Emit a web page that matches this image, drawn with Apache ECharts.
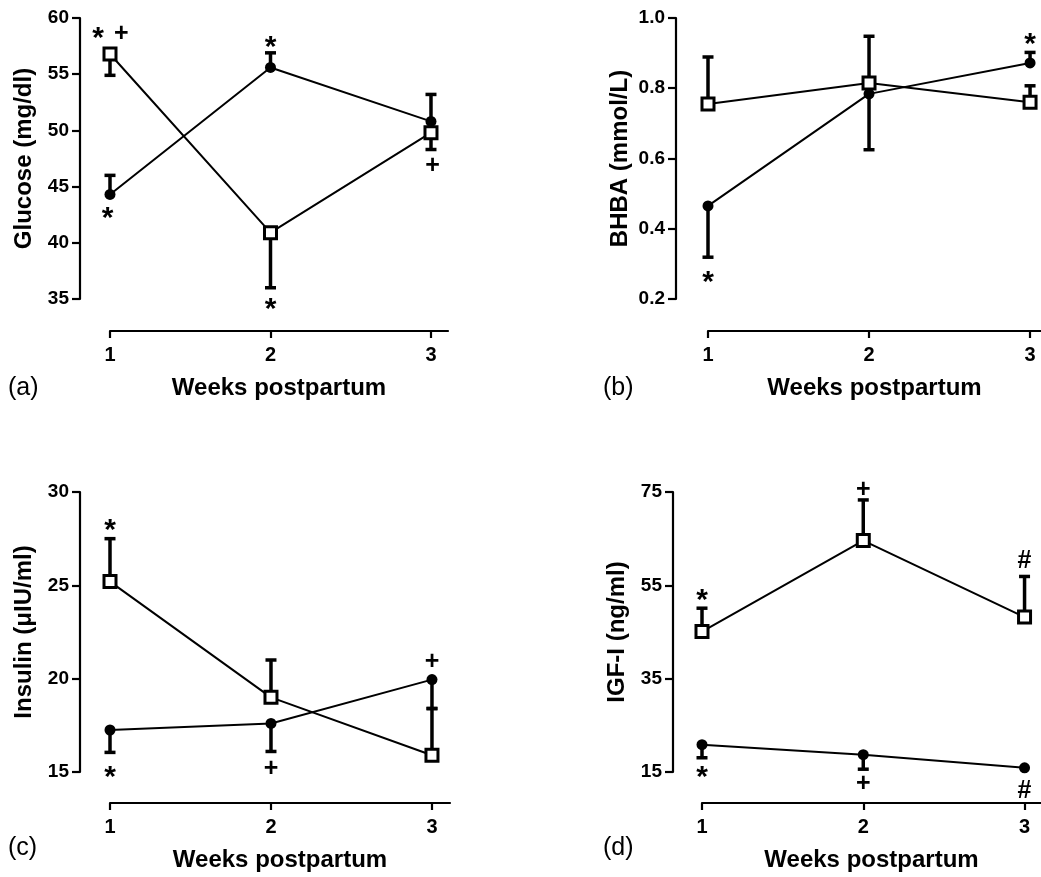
<!DOCTYPE html>
<html><head><meta charset="utf-8">
<script src="https://cdn.jsdelivr.net/npm/echarts@6/dist/echarts.min.js"></script>
<style>html,body{margin:0;padding:0;background:#fff}#c{width:1041px;height:877px}</style>
</head><body><div id="c"></div>
<script>
// ---------- DATA ----------
const weeks = [1, 2, 3];
const xTickValues = [1, 2, 3];

// (a) Glucose (mg/dl)
const glucoseCircle = [44.3, 55.6, 50.8];
const glucoseCircleErr = [1.7, 1.3, 2.4];
const glucoseSquare = [56.8, 40.9, 49.8];
const glucoseSquareErr = [-1.9, -4.9, -1.5];
const glucoseYTicks = [35, 40, 45, 50, 55, 60];
const glucoseMarks = [[0.925, 58.67, '*'], [1.07, 58.6, '+'], [0.985, 42.7, '*'], [2, 57.9, '*'], [2, 34.6, '*'], [3.01, 46.86, '+']];

// (b) BHBA (mmol/L)
const bhbaCircle = [0.465, 0.784, 0.872];
const bhbaCircleErr = [-0.146, -0.159, 0.03];
const bhbaSquare = [0.755, 0.815, 0.760];
const bhbaSquareErr = [0.134, 0.133, 0.047];
const bhbaYTicks = [0.2, 0.4, 0.6, 0.8, 1.0];
const bhbaMarks = [[1, 0.264, '*'], [3, 0.94, '*']];

// (c) Insulin (μIU/ml)
const insulinCircle = [17.25, 17.6, 19.95];
const insulinCircleErr = [-1.2, -1.5, -1.55];
const insulinSquare = [25.2, 19.0, 15.9];
const insulinSquareErr = [2.3, 2.0, 2.5];
const insulinYTicks = [15, 20, 25, 30];
const insulinMarks = [[1, 28.25, '*'], [1, 15.04, '*'], [2, 15.13, '+'], [3, 20.87, '+']];

// (d) IGF-I (ng/ml)
const igfCircle = [20.85, 18.7, 15.9];
const igfCircleErr = [-2.8, -3.1, 0];
const igfSquare = [45.1, 64.6, 48.2];
const igfSquareErr = [5.0, 8.7, 8.7];
const igfYTicks = [15, 35, 55, 75];
const igfMarks = [[1, 53.0, '*'], [1, 15.13, '*'], [2, 75.5, '+'], [2, 12.3, '+'], [3, 60.1, '#'], [3, 10.85, '#']];

const panelLetters = ['(a)', '(b)', '(c)', '(d)'];
const yNames = ['Glucose (mg/dl)', 'BHBA (mmol/L)', 'Insulin (μIU/ml)', 'IGF-I (ng/ml)'];
const xName = 'Weeks postpartum';

// ---------- LAYOUT / STYLE ----------
const FONT = "'Liberation Sans', Arial, Helvetica, sans-serif";
const layouts = [
  {left: 110, top: 18,  width: 338, height: 281, yOff: 30, xOff: 32, xMax: 3.106, yMin: 35,  yMax: 60,  dec: 0, letter: [8, 376]},
  {left: 708, top: 18,  width: 333, height: 281, yOff: 32, xOff: 32, xMax: 3.068, yMin: 0.2, yMax: 1.0, dec: 1, letter: [603, 376]},
  {left: 110, top: 492, width: 340, height: 280, yOff: 30, xOff: 31, xMax: 3.112, yMin: 15,  yMax: 30,  dec: 0, letter: [8, 836]},
  {left: 702, top: 492, width: 339, height: 280, yOff: 29, xOff: 31, xMax: 3.102, yMin: 15,  yMax: 75,  dec: 0, letter: [603, 836]}
];
const panels = [
  {c: glucoseCircle, ce: glucoseCircleErr, s: glucoseSquare, se: glucoseSquareErr, ticks: glucoseYTicks, marks: glucoseMarks},
  {c: bhbaCircle, ce: bhbaCircleErr, s: bhbaSquare, se: bhbaSquareErr, ticks: bhbaYTicks, marks: bhbaMarks},
  {c: insulinCircle, ce: insulinCircleErr, s: insulinSquare, se: insulinSquareErr, ticks: insulinYTicks, marks: insulinMarks},
  {c: igfCircle, ce: igfCircleErr, s: igfSquare, se: igfSquareErr, ticks: igfYTicks, marks: igfMarks}
];

function renderErr(params, api) {
  const x = api.value(0), y = api.value(1), e = api.value(2);
  if (!e) return null;
  const p0 = api.coord([x, y]);
  const p1 = api.coord([x, y + e]);
  const st = {stroke: '#000', lineWidth: 3.5};
  return {type: 'group', children: [
    {type: 'line', shape: {x1: p0[0], y1: p0[1], x2: p1[0], y2: p1[1]}, style: st},
    {type: 'line', shape: {x1: p1[0] - 5.5, y1: p1[1], x2: p1[0] + 5.5, y2: p1[1]}, style: st}
  ]};
}

const grid = [], xAxis = [], yAxis = [], series = [], graphic = [];
layouts.forEach((L, i) => {
  const P = panels[i];
  grid.push({left: L.left, top: L.top, width: L.width, height: L.height, containLabel: false});
  xAxis.push({
    type: 'value', gridIndex: i, min: 1, max: L.xMax, position: 'bottom', offset: L.xOff,
    axisLine: {show: true, lineStyle: {color: '#000', width: 2.2}},
    axisTick: {show: true, length: 7, customValues: xTickValues, lineStyle: {color: '#000', width: 2.2}},
    axisLabel: {customValues: xTickValues, fontSize: 20, fontWeight: 'bold', color: '#000', fontFamily: FONT, margin: 14},
    splitLine: {show: false},
    name: xName, nameLocation: 'middle', nameGap: 45,
    nameTextStyle: {fontSize: 24, fontWeight: 'bold', color: '#000', fontFamily: FONT}
  });
  yAxis.push({
    type: 'value', gridIndex: i, min: L.yMin, max: L.yMax, position: 'left', offset: L.yOff,
    axisLine: {show: true, lineStyle: {color: '#000', width: 2.2}},
    axisTick: {show: true, length: 8, customValues: P.ticks, lineStyle: {color: '#000', width: 2.2}},
    axisLabel: {customValues: P.ticks, fontSize: 19, fontWeight: 'bold', color: '#000', fontFamily: FONT, margin: 11,
      formatter: v => Number(v).toFixed(L.dec)},
    splitLine: {show: false},
    name: yNames[i], nameLocation: 'middle', nameGap: 44,
    nameTextStyle: {fontSize: 24, fontWeight: 'bold', color: '#000', fontFamily: FONT}
  });
  const ax = {xAxisIndex: i, yAxisIndex: i};
  series.push(Object.assign({type: 'custom', renderItem: renderErr, clip: false, z: 3,
    data: weeks.map((w, k) => [w, P.c[k], P.ce[k]]), encode: {x: 0, y: 1}, silent: true}, ax));
  series.push(Object.assign({type: 'line', z: 4, clip: false, symbol: 'circle', symbolSize: 11,
    lineStyle: {color: '#000', width: 2}, itemStyle: {color: '#000'},
    data: weeks.map((w, k) => [w, P.c[k]]), animation: false}, ax));
  series.push(Object.assign({type: 'custom', renderItem: renderErr, clip: false, z: 5,
    data: weeks.map((w, k) => [w, P.s[k], P.se[k]]), encode: {x: 0, y: 1}, silent: true}, ax));
  series.push(Object.assign({type: 'line', z: 6, clip: false, symbol: 'rect', symbolSize: 12,
    lineStyle: {color: '#000', width: 2}, itemStyle: {color: '#fff', borderColor: '#000', borderWidth: 3},
    data: weeks.map((w, k) => [w, P.s[k]]), animation: false}, ax));
  series.push(Object.assign({type: 'scatter', z: 7, clip: false, symbolSize: 0, silent: true,
    itemStyle: {opacity: 1},
    data: P.marks.map(m => ({value: [m[0], m[1]], name: m[2],
      label: m[2] === '*' ? {fontSize: 30, offset: [0, 6]} : {fontSize: 25}})),
    label: {show: true, position: 'inside', formatter: p => p.name, color: '#000', opacity: 1,
      fontWeight: 'bold', fontFamily: FONT, textBorderWidth: 0}}, ax));
  graphic.push({type: 'text', left: L.letter[0], top: L.letter[1],
    style: {text: panelLetters[i], fontSize: 25, fontFamily: FONT, fill: '#000'}});
});

const chart = echarts.init(document.getElementById('c'), null, {renderer: 'canvas'});
chart.setOption({animation: false, backgroundColor: '#fff', grid, xAxis, yAxis, series, graphic});
</script></body></html>
